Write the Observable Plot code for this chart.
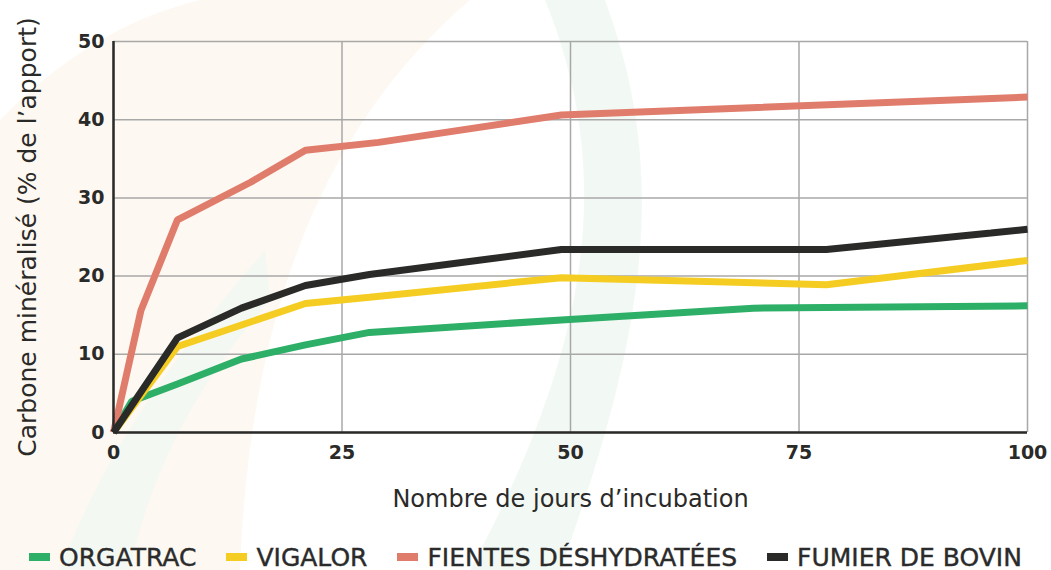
<!DOCTYPE html>
<html>
<head>
<meta charset="utf-8">
<script src="https://cdn.jsdelivr.net/npm/d3@7"></script>
<script src="https://cdn.jsdelivr.net/npm/@observablehq/plot@0.6"></script>
<style>
  html, body { margin: 0; padding: 0; background: #ffffff; }
  #wrap { position: relative; width: 1051px; height: 570px; overflow: hidden; font-family: "DejaVu Sans", sans-serif; }
  #bg { position: absolute; left: 0; top: 0; }
  #chart { position: absolute; left: 0; top: 0; }
  #legend { position: absolute; left: 0; top: 541px; width: 1051px; height: 32px; display: flex; justify-content: center; align-items: center; font-family: "DejaVu Sans", sans-serif; font-weight: 400; font-size: 25px; color: #2b2b2b; -webkit-text-stroke: 0.4px #2b2b2b; }
  .item { display: flex; align-items: center; margin: 0 15px; white-space: nowrap; }
  .sw { width: 21px; height: 8px; margin-right: 9px; }
</style>
</head>
<body>
<div id="wrap">
  <svg id="bg" width="1051" height="570">
    <path d="M 0 0 L 470 0 C 330 120 250 300 240 570 L 0 570 Z" fill="#fdf7ef" opacity="0.9"/>
    <path d="M 0 120 C 60 60 120 20 200 0 L 0 0 Z" fill="#ffffff"/>
    <path d="M 545 0 L 605 0 C 660 150 660 300 560 570 L 470 570 C 600 330 610 160 545 0 Z" fill="#f1f7f2" opacity="0.9"/>
    <path d="M 60 570 C 110 440 180 350 265 250 L 270 300 C 200 380 150 470 130 570 Z" fill="#f1f7f2" opacity="0.8"/>
  </svg>
  <div id="chart"></div>
  <div id="legend"></div>
</div>
<script>
// ---- data ----
const seriesNames = ["ORGATRAC", "VIGALOR", "FIENTES DÉSHYDRATÉES", "FUMIER DE BOVIN"];
const seriesColors = ["#2daf67", "#f5cd22", "#e07c6b", "#2a2a28"];

const orgatracDays   = [0, 2, 7, 14, 21, 28, 49, 70, 100];
const orgatracValues = [0, 4.0, 6.2, 9.4, 11.2, 12.8, 14.4, 15.9, 16.2];

const vigalorDays    = [0, 7, 21, 28, 49, 78, 100];
const vigalorValues  = [0, 11.0, 16.5, 17.3, 19.8, 18.9, 22.0];

const fientesDays    = [0, 3, 7, 15, 21, 29, 49, 100];
const fientesValues  = [0, 15.6, 27.2, 32.0, 36.1, 37.1, 40.6, 42.9];

const fumierDays     = [0, 7, 14, 21, 28, 49, 78, 96, 100];
const fumierValues   = [0, 12.1, 15.9, 18.8, 20.2, 23.4, 23.4, 25.5, 26.0];

const xTicks = [0, 25, 50, 75, 100];
const yTicks = [0, 10, 20, 30, 40, 50];
const xTitle = "Nombre de jours d’incubation";
const yTitle = "Carbone minéralisé (% de l’apport)";

// ---- build table ----
const sets = [
  [orgatracDays, orgatracValues],
  [vigalorDays, vigalorValues],
  [fientesDays, fientesValues],
  [fumierDays, fumierValues]
];
const rows = [];
sets.forEach(([d, v], i) => d.forEach((day, j) => rows.push({serie: seriesNames[i], day, value: v[j]})));

const chart = Plot.plot({
  width: 1051,
  height: 520,
  marginLeft: 113,
  marginRight: 24,
  marginTop: 41,
  marginBottom: 88,
  style: {background: "transparent", fontFamily: "DejaVu Sans, sans-serif"},
  x: {domain: [0, 100], ticks: xTicks, label: null},
  y: {domain: [0, 50], ticks: yTicks, label: null},
  color: {domain: seriesNames, range: seriesColors},
  marks: [
    Plot.gridX(xTicks, {stroke: "#a8a8a8", strokeOpacity: 1, strokeWidth: 1.5}),
    Plot.gridY(yTicks, {stroke: "#a8a8a8", strokeOpacity: 1, strokeWidth: 1.5}),
    Plot.line(rows, {x: "day", y: "value", z: "serie", stroke: "serie", strokeWidth: 7, strokeLinejoin: "miter", strokeLinecap: "butt"}),
    Plot.ruleX([0], {stroke: "#2a2a28", strokeWidth: 2.5}),
    Plot.ruleY([0], {stroke: "#2a2a28", strokeWidth: 2.5}),
    Plot.axisX(xTicks, {tickSize: 0, tickPadding: 13, fontSize: 19, fontWeight: 700, fill: "#2a2a28", label: null}),
    Plot.axisY(yTicks, {tickSize: 0, tickPadding: 9, fontSize: 19, fontWeight: 700, fill: "#2a2a28", label: null}),
    Plot.text([xTitle], {frameAnchor: "bottom", dy: 74, fontSize: 24, fill: "#2a2a28", textAnchor: "middle"}),
    Plot.text([yTitle], {frameAnchor: "left", dx: -86, rotate: -90, fontSize: 25, fill: "#2a2a28", textAnchor: "middle"})
  ]
});
document.getElementById("chart").appendChild(chart);

const legend = document.getElementById("legend");
seriesNames.forEach((n, i) => {
  const it = document.createElement("div");
  it.className = "item";
  const sw = document.createElement("span");
  sw.className = "sw";
  sw.style.background = seriesColors[i];
  const t = document.createElement("span");
  t.textContent = n;
  it.appendChild(sw); it.appendChild(t);
  legend.appendChild(it);
});
</script>
</body>
</html>
